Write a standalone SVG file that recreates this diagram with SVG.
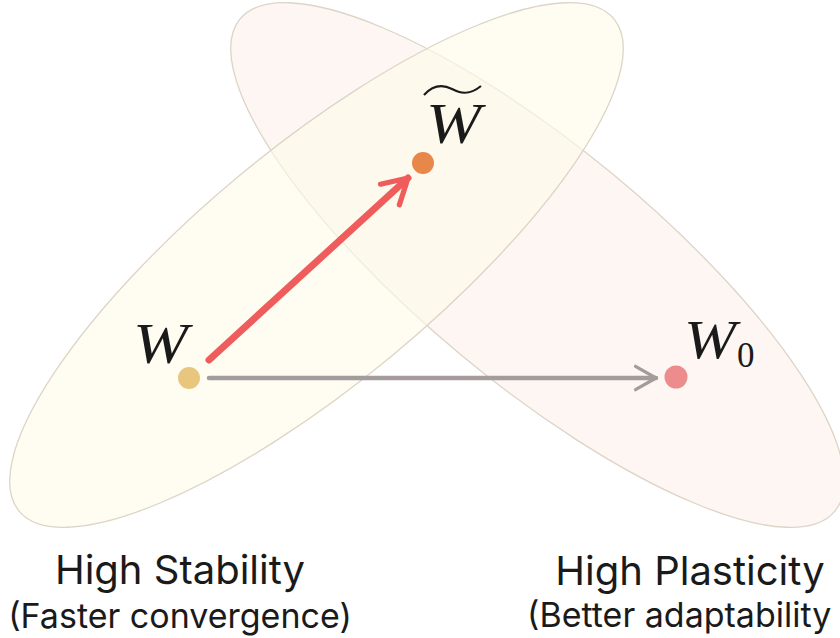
<svg xmlns="http://www.w3.org/2000/svg" width="840" height="638" viewBox="0 0 840 638">
<defs>
<style>
.ell{stroke:#ddd4c7;stroke-width:1.3}
.math{font-family:"Liberation Serif","DejaVu Serif",serif;font-style:italic;fill:#1a1a1a}
.lbl{font-family:Inter,"Liberation Sans",sans-serif;fill:#1a1a1a;text-anchor:middle}
</style>
<marker id="ahR" viewBox="0 0 10 10" refX="8" refY="5" markerWidth="5" markerHeight="5" orient="auto" markerUnits="strokeWidth">
<path d="M1,1 L8,5 L1,9" fill="none" stroke="#ee5c5c" stroke-width="1.5" stroke-linecap="round" stroke-linejoin="round"/>
</marker>
<marker id="ahG" viewBox="0 0 10 10" refX="8" refY="5" markerWidth="6.5" markerHeight="6.5" orient="auto" markerUnits="strokeWidth">
<path d="M1,1 L8,5 L1,9" fill="none" stroke="#a49c9c" stroke-width="1.1" stroke-linecap="round" stroke-linejoin="round"/>
</marker>
</defs>
<rect width="840" height="638" fill="#ffffff"/>
<g id="plasticity-region">
<ellipse class="ell" cx="537.5" cy="265" rx="386" ry="118" transform="rotate(39.6 537.5 265)" fill="#fdf5f0" fill-opacity="0.85"/>
</g>
<g id="stability-region">
<ellipse class="ell" cx="316.5" cy="265" rx="386" ry="118" transform="rotate(-39.6 316.5 265)" fill="#fffcea" fill-opacity="0.6"/>
</g>
<g id="connectors">
<line x1="209" y1="360" x2="408" y2="178" stroke="#ee5c5c" stroke-width="7" stroke-linecap="round" marker-end="url(#ahR)"/>
<line x1="209" y1="378" x2="656" y2="378" stroke="#a49c9c" stroke-width="4.5" stroke-linecap="round" marker-end="url(#ahG)"/>
</g>
<g id="node-W">
<circle cx="189" cy="378" r="11" fill="#e9c67e"/>
<text class="math" x="133" y="363" font-size="58" textLength="55" lengthAdjust="spacingAndGlyphs">W</text>
</g>
<g id="node-Wtilde">
<circle cx="423" cy="163" r="11" fill="#e8874a"/>
<path d="M424,95 C434,84 444,85 452,89 C461,94 470,95 481,86" fill="none" stroke="#1a1a1a" stroke-width="2.2"/>
<text class="math" x="426" y="143" font-size="58" textLength="55" lengthAdjust="spacingAndGlyphs">W</text>
</g>
<g id="node-W0">
<circle cx="676" cy="377" r="11.5" fill="#ec8c8c"/>
<text class="math" x="684" y="358" font-size="54" textLength="52" lengthAdjust="spacingAndGlyphs">W</text>
<text x="737" y="367" font-size="35" font-family="Liberation Serif, DejaVu Serif, serif" fill="#1a1a1a">0</text>
</g>
<g id="label-stability">
<text class="lbl" x="180" y="584" font-size="40">High Stability</text>
<text class="lbl" x="180" y="628" font-size="34">(Faster convergence)</text>
</g>
<g id="label-plasticity">
<text class="lbl" x="690" y="585" font-size="40">High Plasticity</text>
<text x="527" y="627" font-size="34" font-family="Inter, Liberation Sans, sans-serif" fill="#1a1a1a">(Better adaptability</text>
</g>
</svg>
